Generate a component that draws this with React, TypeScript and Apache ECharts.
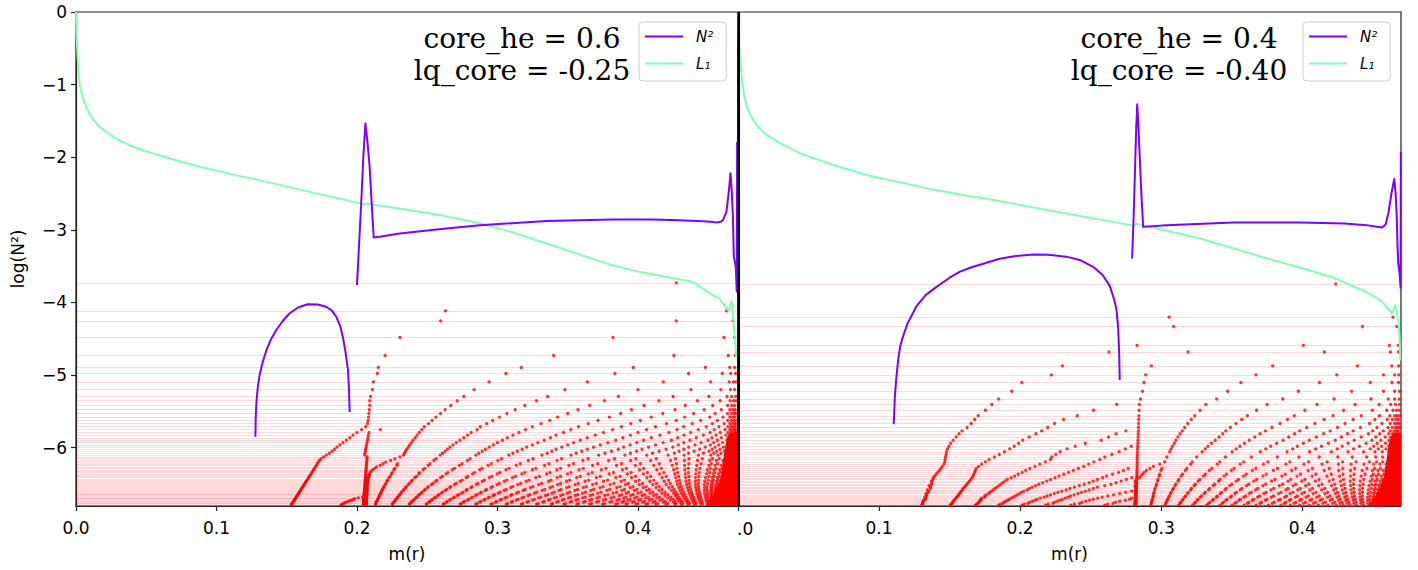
import React, { useEffect, useRef } from 'react';
import * as echarts from 'echarts';

// ---------- axes ----------
const xTicks = [0, 0.1, 0.2, 0.3, 0.4];
const yTicks = [0, -1, -2, -3, -4, -5, -6];
const xMaxLeft = 0.4712;
const xMaxRight = 0.4700;
const yMin = -6.805;

// ---------- left panel (core_he = 0.6) ----------
const n2DomeLeft = [[0.1277,-5.85],[0.1279,-5.6],[0.1285,-5.35],[0.1295,-5.15],[0.1307,-5.0],[0.1325,-4.85],[0.1355,-4.66],[0.139,-4.5],[0.1426,-4.38],[0.147,-4.26],[0.1521,-4.15],[0.158,-4.07],[0.165,-4.025],[0.172,-4.03],[0.178,-4.06],[0.182,-4.11],[0.1853,-4.2],[0.188,-4.32],[0.19,-4.48],[0.1918,-4.68],[0.1936,-4.93],[0.1943,-5.2],[0.1948,-5.51]];
const n2EnvLeft = [[0.2,-3.76],[0.2015,-3.2],[0.2031,-2.59],[0.2045,-2.0],[0.206,-1.535],[0.2075,-1.8],[0.209,-2.13],[0.2105,-2.65],[0.2119,-3.105],[0.2162,-3.097],[0.2304,-3.05],[0.26,-2.99],[0.2874,-2.936],[0.335,-2.88],[0.382,-2.858],[0.41,-2.86],[0.4297,-2.867],[0.45,-2.885],[0.4558,-2.9],[0.459,-2.89],[0.4605,-2.867],[0.463,-2.75],[0.4648,-2.45],[0.4658,-2.22],[0.4667,-2.45],[0.4676,-2.82],[0.4682,-3.37],[0.4696,-3.51],[0.47,-3.69],[0.4703,-3.85],[0.4706,-1.79]];
const l1Left = [[0,0],[0.0002,-0.15],[0.0005,-0.35],[0.001,-0.58],[0.0017,-0.8],[0.0027,-1.0],[0.004,-1.12],[0.006,-1.25],[0.008,-1.34],[0.01,-1.41],[0.013,-1.5],[0.017,-1.58],[0.022,-1.66],[0.03,-1.76],[0.041,-1.86],[0.052,-1.93],[0.064,-2.0],[0.076,-2.07],[0.088,-2.13],[0.112,-2.24],[0.136,-2.34],[0.16,-2.45],[0.183,-2.55],[0.203,-2.64],[0.2055,-2.655],[0.2075,-2.635],[0.2095,-2.65],[0.2304,-2.706],[0.26,-2.8],[0.2874,-2.91],[0.31,-3.03],[0.335,-3.19],[0.36,-3.35],[0.382,-3.49],[0.4,-3.575],[0.418,-3.64],[0.4391,-3.72],[0.4534,-3.9],[0.4581,-3.95],[0.463,-4.08],[0.4648,-4.12],[0.4665,-3.98],[0.4675,-4.13],[0.4685,-4.4],[0.4695,-4.6],[0.47,-4.75]];
const levelsLeft = [-3.731,-4.117,-4.255,-4.484,-4.732,-4.897,-4.980,-5.096,-5.201,-5.297,-5.355,-5.421,-5.479,-5.531,-5.580,-5.627,-5.671,-5.713,-5.753,-5.792,-5.829,-5.865,-5.899,-5.932,-5.964,-5.994,-6.023,-6.051,-6.078,-6.105,-6.129,-6.154,-6.178,-6.201,-6.223,-6.245,-6.266,-6.287,-6.306,-6.325,-6.345,-6.362,-6.380,-6.398,-6.415,-6.431,-6.448,-6.464,-6.480,-6.495,-6.510,-6.524,-6.538,-6.551,-6.565,-6.578,-6.590,-6.602,-6.615,-6.627,-6.638,-6.649,-6.660,-6.671,-6.682,-6.693,-6.704,-6.714,-6.724,-6.733,-6.743,-6.752,-6.762,-6.772,-6.781,-6.791];
// each row: [level, node positions...]
const dotRowsLeft = [
[-3.731,0.4273],
[-4.117,0.263,0.463],
[-4.255,0.2596,0.4273,0.4676],
[-4.484,0.2306,0.3822,0.4612,0.4688],
[-4.732,0.22,0.34,0.4256,0.4643,0.4693],
[-4.897,0.2152,0.317,0.3967,0.448,0.4653,0.4688],
[-4.980,0.2145,0.306,0.3836,0.436,0.46,0.466,0.4695],
[-5.096,0.2117,0.294,0.364,0.418,0.4517,0.465,0.468,0.4697],
[-5.201,0.211,0.2833,0.348,0.40,0.4377,0.459,0.4658,0.4688],
[-5.297,0.2097,0.276,0.3357,0.386,0.425,0.4505,0.4634,0.4667,0.4697],
[-5.355,0.2091,0.2713,0.3277,0.3761,0.4149,0.4423,0.4585,0.4656,0.468,0.4697],
[-5.421,0.2091,0.2668,0.3195,0.3657,0.4043,0.4336,0.4532,0.4638,0.4667,0.4688],
[-5.479,0.2088,0.2627,0.3126,0.3573,0.3954,0.4264,0.4471,0.4593,0.4654,0.4676,0.4692],
[-5.531,0.2085,0.2594,0.3067,0.35,0.3877,0.4177,0.4397,0.4549,0.4638,0.4665,0.4684,0.4698],
[-5.580,0.2082,0.2562,0.3013,0.3428,0.3797,0.4094,0.4333,0.4511,0.4605,0.4654,0.4674,0.469],
[-5.627,0.2079,0.2535,0.2966,0.3373,0.3716,0.4017,0.4273,0.4447,0.4565,0.4639,0.4663,0.4681,0.4696],
[-5.671,0.2075,0.2508,0.2923,0.3311,0.3646,0.3949,0.4203,0.4385,0.4529,0.4613,0.4654,0.4671,0.4687,0.4697],
[-5.713,0.2062,0.2479,0.2878,0.3248,0.3577,0.3883,0.4125,0.4326,0.4486,0.4576,0.464,0.4662,0.4678,0.4692],
[-5.753,0.2033,0.2166,0.2461,0.2855,0.32,0.3522,0.3819,0.4061,0.4278,0.4429,0.4543,0.462,0.4654,0.467,0.4685,0.4696],
[-5.792,0.2,0.2085,0.2443,0.2813,0.3153,0.347,0.3754,0.4,0.422,0.4375,0.4513,0.4586,0.4641,0.4661,0.4676,0.4689,0.4697],
[-5.829,0.1972,0.2081,0.2428,0.2787,0.311,0.3416,0.3696,0.3946,0.4156,0.4327,0.4466,0.4556,0.4626,0.4654,0.4669,0.4682,0.4692],
[-5.865,0.195,0.2078,0.2414,0.276,0.307,0.3377,0.3639,0.3893,0.4095,0.4282,0.4415,0.4526,0.4594,0.4642,0.4661,0.4675,0.4687,0.4696],
[-5.899,0.1925,0.2075,0.2399,0.2733,0.3035,0.3333,0.359,0.3842,0.4041,0.4238,0.437,0.4498,0.4566,0.4632,0.4654,0.4668,0.468,0.469,0.4698],
[-5.932,0.19,0.2071,0.2387,0.2707,0.3,0.3287,0.3542,0.3786,0.3992,0.4179,0.4326,0.4449,0.4539,0.4602,0.4643,0.466,0.4673,0.4685,0.4693],
[-5.964,0.1878,0.2068,0.2375,0.2683,0.2971,0.3248,0.35,0.3732,0.3944,0.4125,0.4287,0.4406,0.4515,0.4575,0.4635,0.4654,0.4666,0.4678,0.4689,0.4696],
[-5.994,0.1858,0.2065,0.2366,0.2662,0.2942,0.3208,0.3458,0.3684,0.3898,0.4075,0.4248,0.4361,0.4479,0.4549,0.4608,0.4643,0.466,0.4671,0.4683,0.4692,0.4698],
[-6.023,0.184,0.2062,0.2354,0.2644,0.2915,0.3176,0.3416,0.3639,0.386,0.4029,0.42,0.4327,0.4439,0.4528,0.4584,0.4637,0.4654,0.4666,0.4677,0.4687,0.4695],
[-6.051,0.1822,0.206,0.2346,0.2627,0.2891,0.3142,0.3387,0.36,0.3811,0.399,0.4151,0.4292,0.44,0.4506,0.4561,0.4615,0.4646,0.466,0.4671,0.4681,0.469,0.4697],
[-6.078,0.1803,0.2057,0.2337,0.2609,0.2867,0.311,0.3354,0.356,0.3765,0.3946,0.4104,0.4259,0.436,0.4466,0.4539,0.4591,0.4638,0.4654,0.4665,0.4676,0.4686,0.4693,0.4699],
[-6.105,0.1782,0.2055,0.2331,0.2592,0.2846,0.3081,0.3317,0.3524,0.372,0.3907,0.4062,0.4215,0.4328,0.443,0.4518,0.4569,0.4621,0.4647,0.4659,0.467,0.468,0.4689,0.4696],
[-6.154,0.1745,0.2071,0.227,0.2563,0.2805,0.3029,0.3253,0.3457,0.3644,0.3833,0.3985,0.4131,0.4267,0.4363,0.4458,0.453,0.4578,0.4627],
[-6.178,0.1733,0.207,0.224,0.2547,0.2786,0.3003,0.322,0.3424,0.3608,0.3791,0.3948,0.409,0.4232,0.4331,0.4424,0.4511,0.4558,0.4605],
[-6.223,0.1718,0.2068,0.2185,0.2289,0.252,0.2748,0.2956,0.3162,0.3366,0.3541,0.3714,0.3883,0.4017,0.4152,0.4273,0.4362,0.4449,0.4522,0.4566,0.4611],
[-6.245,0.1711,0.2067,0.2165,0.2283,0.2506,0.2729,0.2933,0.3134,0.3335,0.3508,0.3677,0.3847,0.3981,0.4112,0.4244,0.4332,0.4418,0.4504,0.4548,0.4592],
[-6.287,0.1697,0.2065,0.2126,0.2269,0.2482,0.2695,0.2891,0.3083,0.3274,0.3449,0.3611,0.3772,0.3917,0.4041,0.4166,0.4277,0.4359,0.4441,0.4514,0.4556,0.4598,0.4636],
[-6.306,0.1691,0.2065,0.2112,0.2262,0.247,0.2678,0.2874,0.3061,0.3249,0.3423,0.3581,0.3739,0.3889,0.4011,0.4134,0.4254,0.4334,0.4414,0.4494,0.454,0.4581,0.4622],
[-6.345,0.1678,0.2063,0.2095,0.2251,0.2446,0.2648,0.2838,0.3016,0.3195,0.3373,0.3523,0.3674,0.3826,0.3951,0.4067,0.4184,0.4283,0.4359,0.4437,0.4509,0.4548,0.4587,0.4626],
[-6.362,0.1673,0.2062,0.209,0.2245,0.2439,0.2634,0.2823,0.2998,0.3174,0.335,0.3499,0.3647,0.3795,0.3924,0.4039,0.4154,0.4262,0.4337,0.4412,0.4487,0.4534,0.4572,0.4611],
[-6.398,0.1661,0.2061,0.2085,0.2237,0.2424,0.2609,0.2789,0.296,0.3128,0.3298,0.3449,0.359,0.3732,0.3872,0.3982,0.409,0.4201,0.429,0.4363,0.4434,0.4506,0.4543,0.4579,0.4616],
[-6.415,0.1655,0.206,0.2082,0.2228,0.2411,0.2595,0.2777,0.2942,0.3107,0.3273,0.3425,0.3564,0.3704,0.3843,0.3955,0.4063,0.4171,0.4269,0.4339,0.441,0.4481,0.4529,0.4565,0.46],
[-6.448,0.1645,0.2059,0.2078,0.2218,0.2393,0.2571,0.2749,0.2907,0.3067,0.3226,0.3382,0.3514,0.3649,0.3784,0.3904,0.4008,0.4113,0.4217,0.4296,0.4364,0.4432,0.45,0.4537,0.4572,0.4606],
[-6.464,0.1639,0.2058,0.2077,0.2213,0.2387,0.256,0.2734,0.2892,0.3049,0.3205,0.3364,0.3492,0.3624,0.3755,0.3881,0.3983,0.4085,0.4187,0.4276,0.4342,0.4409,0.4476,0.4524,0.4558,0.4592],
[-6.495,0.1629,0.2057,0.2074,0.2206,0.2372,0.2541,0.2707,0.2861,0.3013,0.3165,0.3314,0.3449,0.3575,0.3703,0.3829,0.3931,0.4032,0.4132,0.4229,0.4301,0.4365,0.443,0.4495,0.4532,0.4565,0.4598,0.4631],
[-6.510,0.1624,0.2057,0.2073,0.22,0.2365,0.2529,0.2694,0.2849,0.2997,0.3145,0.3293,0.3428,0.3553,0.3678,0.3802,0.3912,0.4009,0.4106,0.4202,0.4282,0.4346,0.4409,0.4472,0.452,0.4553,0.4585,0.4617],
[-6.538,0.1615,0.2056,0.2072,0.2192,0.2351,0.2508,0.2668,0.2819,0.2965,0.3109,0.3253,0.3391,0.351,0.3631,0.3752,0.3871,0.3965,0.4058,0.4151,0.4245,0.4308,0.437,0.4431,0.4491,0.4529,0.4561,0.4592,0.4623],
[-6.551,0.1611,0.2055,0.2072,0.2189,0.2346,0.2503,0.266,0.2811,0.2953,0.3094,0.3235,0.3374,0.3492,0.3611,0.373,0.3849,0.3944,0.4037,0.4129,0.4221,0.4292,0.4352,0.4412,0.4473,0.4519,0.455,0.4581,0.4611],
[-6.578,0.1602,0.2054,0.2071,0.218,0.2334,0.2485,0.2639,0.2784,0.2923,0.3061,0.3197,0.3336,0.3453,0.357,0.3685,0.3799,0.3904,0.3992,0.4081,0.4172,0.4257,0.4316,0.4374,0.4433,0.4491,0.4528,0.4558,0.4587,0.4617],
[-6.590,0.1598,0.2054,0.2071,0.2179,0.2329,0.2479,0.2629,0.2777,0.2912,0.3047,0.3182,0.3318,0.3438,0.3551,0.3665,0.3779,0.3886,0.3974,0.4062,0.415,0.4239,0.43,0.4358,0.4416,0.4473,0.4518,0.4548,0.4577,0.4607],
[-6.615,0.159,0.2052,0.207,0.2171,0.2316,0.2464,0.2609,0.2755,0.2886,0.3019,0.3149,0.328,0.3404,0.3514,0.3626,0.3737,0.3847,0.3932,0.4022,0.4107,0.4193,0.4269,0.4325,0.4381,0.4437,0.4494,0.4527,0.4555,0.4584,0.4613],
[-6.627,0.1586,0.2052,0.207,0.2169,0.2313,0.2457,0.26,0.2744,0.2875,0.3005,0.3134,0.3263,0.3387,0.3496,0.3605,0.3714,0.3823,0.3916,0.4001,0.4085,0.417,0.4253,0.4308,0.4364,0.4419,0.4474,0.4517,0.4546,0.4574,0.4602],
[-6.649,0.1579,0.2051,0.2069,0.2162,0.2304,0.2443,0.2582,0.2724,0.2854,0.2979,0.3104,0.3232,0.3359,0.3467,0.3572,0.3678,0.3786,0.3885,0.3966,0.4048,0.4132,0.4213,0.428,0.4334,0.4388,0.4441,0.4496,0.4528,0.4555,0.4583,0.461],
[-6.660,0.1575,0.205,0.2069,0.2161,0.2299,0.2438,0.2576,0.2715,0.2844,0.2969,0.3093,0.3218,0.3342,0.345,0.3555,0.366,0.3765,0.3868,0.3949,0.403,0.4112,0.4193,0.4266,0.4319,0.4373,0.4426,0.4479,0.4519,0.4546,0.4573,0.46],
[-6.682,0.1568,0.204,0.205,0.2068,0.2156,0.229,0.2425,0.2559,0.2695,0.2824,0.2944,0.3067,0.3187,0.3309,0.342,0.3521,0.3624,0.3725,0.3829,0.3916,0.3994,0.4074,0.4153,0.4233,0.4291,0.4342,0.4395,0.4446,0.4498,0.4528,0.4554,0.4581,0.4608],
[-6.693,0.1564,0.201,0.2049,0.2068,0.2153,0.2286,0.2419,0.2553,0.2686,0.2813,0.2933,0.3053,0.3173,0.3293,0.3404,0.3505,0.3606,0.3708,0.3809,0.3899,0.3977,0.4055,0.4134,0.4212,0.4277,0.4328,0.4379,0.443,0.4482,0.4519,0.4545,0.4571,0.4598],
[-6.714,0.1557,0.1975,0.2048,0.2068,0.2147,0.2278,0.2408,0.2538,0.2668,0.2795,0.2912,0.3029,0.3146,0.3264,0.3375,0.3474,0.3573,0.3671,0.377,0.3867,0.3944,0.402,0.4097,0.4173,0.425,0.43,0.435,0.44,0.445,0.4499,0.4528,0.4553,0.4579,0.4604],
[-6.724,0.1554,0.196,0.2048,0.2067,0.2145,0.2274,0.2402,0.2531,0.266,0.2786,0.2902,0.3017,0.3133,0.3249,0.3363,0.3461,0.3558,0.3656,0.3754,0.3851,0.3929,0.4005,0.408,0.4156,0.4231,0.4287,0.4337,0.4386,0.4436,0.4485,0.452,0.4545,0.457,0.4596],
[-6.743,0.1548,0.1938,0.2047,0.2067,0.2138,0.2266,0.239,0.2517,0.2642,0.2765,0.288,0.2994,0.3107,0.3221,0.3333,0.3433,0.3528,0.3624,0.3719,0.3815,0.3898,0.3973,0.4046,0.4121,0.4194,0.4263,0.431,0.4359,0.4407,0.4456,0.4504,0.4529,0.4554,0.4579,0.4603],
[-6.752,0.1545,0.1925,0.2047,0.2067,0.2139,0.2263,0.2388,0.2513,0.2637,0.2758,0.2873,0.2986,0.3098,0.321,0.3322,0.3422,0.3517,0.3611,0.3705,0.38,0.3887,0.396,0.4033,0.4106,0.418,0.4252,0.43,0.4348,0.4396,0.4443,0.4491,0.4522,0.4547,0.4571,0.4596],
[-6.772,0.1538,0.1905,0.2046,0.2066,0.2132,0.2254,0.2375,0.2497,0.2621,0.2742,0.2854,0.2963,0.3072,0.3181,0.329,0.3393,0.3485,0.3577,0.3669,0.3761,0.3856,0.3924,0.3999,0.407,0.4142,0.4213,0.4273,0.432,0.4367,0.4414,0.4461,0.4506,0.453,0.4554,0.4578,0.4601],
[-6.781,0.1536,0.1895,0.2046,0.2066,0.2132,0.2252,0.2373,0.2494,0.2614,0.2734,0.2846,0.2954,0.3062,0.3171,0.3279,0.3383,0.3474,0.3565,0.3657,0.3748,0.384,0.3915,0.3986,0.4057,0.4128,0.4198,0.4263,0.4309,0.4355,0.4402,0.4448,0.4494,0.4523,0.4547,0.457,0.4594]
];
const spikeRowsLeft = [
[-6.129,0.1762,0.2072,0.2306],[-6.201,0.1725,0.2069,0.2205],[-6.266,0.1704,0.2066,0.214],[-6.325,0.1685,0.2064,0.21],
[-6.380,0.1667,0.2062,0.2087],[-6.431,0.165,0.206,0.208],[-6.480,0.1634,0.2058,0.2076],[-6.524,0.162,0.2056,0.2073],
[-6.565,0.1606,0.2055,0.2071],[-6.602,0.1594,0.2053,0.207],[-6.638,0.1582,0.2051,0.2069],[-6.671,0.1571,0.205,0.2068],
[-6.704,0.1561,0.1984,0.2049,0.2068],[-6.733,0.1551,0.195,0.2048,0.2067],[-6.762,0.1542,0.1913,0.2047,0.2066],[-6.791,0.1533,0.1885,0.2046,0.2066]
];
const edgeMassLeft = [[0.448,-6.805],[0.4525,-6.7],[0.4565,-6.55],[0.459,-6.4],[0.4605,-6.2],[0.462,-6.0],[0.4635,-5.87],[0.465,-5.8],[0.4712,-5.8]];

// ---------- right panel (core_he = 0.4) ----------
const n2DomeRight = [[0.1104,-5.68],[0.1112,-5.3],[0.1121,-5.07],[0.1135,-4.8],[0.115,-4.6],[0.1168,-4.48],[0.12,-4.3],[0.1263,-4.06],[0.133,-3.9],[0.1405,-3.79],[0.15,-3.66],[0.157,-3.58],[0.165,-3.52],[0.175,-3.46],[0.1854,-3.4],[0.197,-3.36],[0.2091,-3.34],[0.22,-3.345],[0.2327,-3.37],[0.243,-3.42],[0.2517,-3.51],[0.2583,-3.62],[0.2635,-3.77],[0.2665,-3.95],[0.2683,-4.1],[0.2695,-4.35],[0.2702,-4.7],[0.2706,-5.07]];
const n2EnvRight = [[0.2794,-3.395],[0.2805,-2.8],[0.2815,-2.13],[0.2823,-1.6],[0.283,-1.27],[0.2838,-1.55],[0.2846,-1.9],[0.2858,-2.45],[0.2872,-2.96],[0.3036,-2.936],[0.351,-2.9],[0.3984,-2.9],[0.43,-2.915],[0.4457,-2.936],[0.4563,-2.97],[0.459,-2.93],[0.461,-2.78],[0.4632,-2.5],[0.4652,-2.3],[0.4662,-2.5],[0.467,-2.82],[0.4675,-3.2],[0.468,-3.46],[0.469,-3.6],[0.4695,-3.74],[0.4697,-3.8],[0.4699,-1.93]];
const l1Right = [[0,0],[0.0002,-0.2],[0.0006,-0.42],[0.0012,-0.6],[0.0019,-0.75],[0.0031,-0.98],[0.0043,-1.15],[0.0065,-1.31],[0.009,-1.43],[0.0135,-1.57],[0.0208,-1.7],[0.031,-1.82],[0.0445,-1.95],[0.056,-2.03],[0.0682,-2.11],[0.08,-2.18],[0.0918,-2.25],[0.1155,-2.35],[0.1392,-2.45],[0.1625,-2.53],[0.1854,-2.605],[0.2327,-2.775],[0.2787,-2.936],[0.2805,-2.95],[0.2823,-2.915],[0.284,-2.925],[0.3277,-3.12],[0.375,-3.395],[0.4,-3.53],[0.4223,-3.66],[0.4457,-3.86],[0.456,-3.98],[0.4634,-4.15],[0.466,-4.04],[0.4672,-4.15],[0.4683,-4.29],[0.469,-4.5],[0.4695,-4.8]];
const levelsRight = [-3.745,-4.204,-4.332,-4.593,-4.684,-4.875,-4.999,-5.104,-5.224,-5.331,-5.407,-5.486,-5.562,-5.614,-5.669,-5.724,-5.771,-5.810,-5.854,-5.899,-5.941,-5.982,-6.019,-6.058,-6.095,-6.130,-6.164,-6.197,-6.229,-6.259,-6.288,-6.316,-6.342,-6.368,-6.393,-6.416,-6.440,-6.462,-6.484,-6.505,-6.525,-6.545,-6.564,-6.582,-6.600,-6.617,-6.634,-6.651,-6.667,-6.682,-6.697,-6.713,-6.726,-6.740,-6.754,-6.768,-6.781,-6.795];
const dotRowsRight = [
[-3.745,0.4238],
[-4.204,0.3056,0.4643],
[-4.332,0.3089,0.4427,0.467],
[-4.593,0.2829,0.4008,0.4618,0.468],
[-4.684,0.263,0.3191,0.4157,0.4625,0.4683],
[-4.875,0.2299,0.2931,0.379,0.4391,0.4635,0.4683],
[-4.999,0.2221,0.289,0.3672,0.4245,0.4576,0.4655,0.4685],
[-5.104,0.2012,0.2878,0.3565,0.4122,0.4482,0.4636,0.4683],
[-5.224,0.1941,0.2867,0.3471,0.3972,0.4351,0.4576,0.4655,0.469],
[-5.331,0.1847,0.2853,0.3393,0.3862,0.4226,0.4487,0.461,0.4655,0.4688],
[-5.407,0.1799,0.2685,0.2845,0.3317,0.3751,0.4105,0.4375,0.4545,0.4627,0.4662,0.469],
[-5.486,0.1754,0.2521,0.2843,0.3275,0.3676,0.4018,0.4293,0.4497,0.4599,0.4643,0.4668,0.4688],
[-5.562,0.1703,0.2405,0.2842,0.3238,0.3611,0.3943,0.4218,0.4418,0.4547,0.4621,0.4655,0.4673,0.4691],
[-5.614,0.1678,0.2308,0.2841,0.3213,0.3571,0.3895,0.4155,0.4361,0.4515,0.4603,0.4639,0.4663,0.4681],
[-5.669,0.1653,0.2244,0.284,0.3188,0.353,0.3843,0.409,0.4303,0.4477,0.4565,0.4624,0.4654,0.467,0.4686],
[-5.724,0.1624,0.2195,0.2839,0.3166,0.349,0.3785,0.4032,0.425,0.4413,0.453,0.4607,0.4637,0.4661,0.4675,0.4691],
[-5.771,0.1588,0.2153,0.275,0.2838,0.3149,0.3458,0.3738,0.3982,0.4198,0.4361,0.45,0.4574,0.4624,0.465,0.4667,0.4681],
[-5.810,0.1567,0.2112,0.268,0.2837,0.3134,0.3436,0.3701,0.3945,0.4151,0.4321,0.4469,0.4549,0.4613,0.4639,0.466,0.4674,0.4687],
[-5.854,0.1546,0.2064,0.2626,0.2836,0.3119,0.341,0.3663,0.3904,0.41,0.4277,0.4418,0.4521,0.4588,0.4626,0.465,0.4666,0.4679],
[-5.899,0.1525,0.2019,0.2575,0.2835,0.3104,0.3383,0.3624,0.3864,0.405,0.4234,0.4368,0.4494,0.4557,0.4614,0.4637,0.4658,0.467,0.4682],
[-5.941,0.1508,0.1989,0.2462,0.2834,0.3093,0.3356,0.359,0.3819,0.4008,0.4186,0.4325,0.4452,0.4531,0.4591,0.4625,0.4647,0.4662,0.4674],
[-5.982,0.1495,0.1958,0.239,0.2788,0.2833,0.308,0.3331,0.3558,0.3776,0.3965,0.4136,0.4283,0.4405,0.4506,0.4563,0.4614,0.4635,0.4655,0.4666],
[-6.019,0.1485,0.1927,0.2333,0.2746,0.2832,0.307,0.3312,0.3532,0.3742,0.3932,0.4095,0.4248,0.4364,0.4481,0.4539,0.4594,0.4625,0.4644,0.466],
[-6.058,0.1478,0.1889,0.2283,0.2702,0.2831,0.306,0.329,0.3503,0.3703,0.3892,0.4052,0.4206,0.4324,0.4435,0.4515,0.4568,0.4614,0.4633,0.4652],
[-6.130,0.1471,0.1818,0.2225,0.26,0.283,0.304,0.3252,0.3455,0.3639,0.3823,0.3977,0.412,0.4252,0.4355,0.4457,0.4521,0.457,0.4613,0.4631],
[-6.197,0.1466,0.1754,0.2179,0.2523,0.283,0.3025,0.3221,0.3415,0.3585,0.3756,0.3912,0.4045,0.4177,0.4286,0.4381,0.4476,0.4527,0.4571,0.4612],
[-6.229,0.146,0.1728,0.214,0.2486,0.2829,0.299,0.3208,0.3397,0.356,0.3725,0.3884,0.4012,0.414,0.4256,0.4346,0.4438,0.4507,0.4551,0.4594,0.462],
[-6.288,0.1439,0.1689,0.2069,0.2413,0.2766,0.2829,0.292,0.3005,0.3182,0.3359,0.3517,0.3671,0.3825,0.3953,0.4072,0.4191,0.4287,0.4372,0.4458,0.4513,0.4554,0.4594],
[-6.316,0.1428,0.1682,0.204,0.2377,0.2733,0.2828,0.2896,0.2999,0.3171,0.3341,0.3497,0.3647,0.3796,0.3925,0.4042,0.4156,0.4259,0.4342,0.4425,0.4497,0.4536,0.4575,0.4611],
[-6.368,0.1405,0.1671,0.1987,0.231,0.2655,0.2828,0.2868,0.299,0.3151,0.3313,0.3463,0.3603,0.3744,0.3879,0.3988,0.4097,0.4205,0.4289,0.4367,0.4445,0.4504,0.4541,0.4578],
[-6.393,0.1394,0.1666,0.1961,0.2276,0.2612,0.2827,0.2855,0.2986,0.3141,0.3299,0.3446,0.3584,0.3721,0.3856,0.3963,0.407,0.4175,0.4265,0.4342,0.4417,0.449,0.4525,0.4561,0.4597],
[-6.440,0.1382,0.1651,0.1909,0.2215,0.2548,0.2753,0.2826,0.2977,0.3125,0.3274,0.3418,0.3548,0.3677,0.3806,0.3919,0.4019,0.4119,0.4219,0.4293,0.4365,0.4436,0.4497,0.4531,0.4565,0.4599],
[-6.462,0.1371,0.1641,0.1893,0.2188,0.2517,0.2716,0.2815,0.2826,0.2974,0.3119,0.3262,0.3406,0.3532,0.3656,0.3783,0.3899,0.3997,0.4093,0.4191,0.4271,0.434,0.4411,0.4481,0.4517,0.4551,0.4583],
[-6.505,0.1372,0.1623,0.1864,0.2133,0.2455,0.2644,0.2825,0.2966,0.3104,0.3242,0.338,0.3501,0.3621,0.3741,0.3861,0.3954,0.4047,0.414,0.4231,0.4297,0.4364,0.4431,0.4492,0.4523,0.4555,0.4586],
[-6.525,0.1354,0.1615,0.185,0.2109,0.2419,0.26,0.2815,0.2825,0.2964,0.3097,0.3233,0.3368,0.3487,0.3605,0.3721,0.3838,0.3935,0.4025,0.4116,0.4208,0.4277,0.4343,0.4408,0.4473,0.4511,0.4542,0.4572,0.4603],
[-6.564,0.1363,0.1597,0.1822,0.2066,0.2353,0.2519,0.2824,0.2957,0.3086,0.3215,0.3344,0.3462,0.3574,0.3686,0.3798,0.3899,0.3986,0.4073,0.4159,0.424,0.4303,0.4365,0.4427,0.4488,0.4518,0.4547,0.4576],
[-6.582,0.1341,0.1591,0.181,0.205,0.2327,0.249,0.2818,0.2824,0.2954,0.308,0.3208,0.3334,0.3451,0.356,0.3669,0.3778,0.3884,0.3968,0.4053,0.4138,0.4223,0.4284,0.4346,0.4407,0.4468,0.4507,0.4535,0.4564,0.4593],
[-6.617,0.1348,0.1577,0.1785,0.2011,0.2268,0.2435,0.2748,0.2823,0.2949,0.3071,0.3192,0.3313,0.3429,0.3534,0.3639,0.3744,0.385,0.3934,0.4016,0.4098,0.4179,0.4251,0.4309,0.4368,0.4427,0.4485,0.4514,0.4541,0.4569,0.4597],
[-6.634,0.1332,0.157,0.1778,0.1996,0.2242,0.241,0.2706,0.2816,0.2823,0.2947,0.3065,0.3186,0.3304,0.3419,0.3522,0.3624,0.3729,0.3832,0.3914,0.3998,0.4078,0.416,0.4235,0.4293,0.435,0.4408,0.4466,0.4504,0.4531,0.4558,0.4585],
[-6.667,0.1336,0.1558,0.1749,0.1965,0.2191,0.2358,0.2622,0.2822,0.2943,0.3057,0.3172,0.3286,0.3398,0.3499,0.3598,0.3697,0.3797,0.3888,0.3966,0.4043,0.412,0.4197,0.426,0.4316,0.4371,0.4426,0.4482,0.451,0.4537,0.4563,0.4589],
[-6.682,0.1323,0.155,0.1749,0.1952,0.217,0.234,0.2582,0.2815,0.2822,0.2942,0.3053,0.3166,0.3277,0.3391,0.349,0.3586,0.3684,0.3781,0.3875,0.3951,0.4027,0.4103,0.4179,0.4246,0.4301,0.4355,0.441,0.4463,0.4502,0.4527,0.4553,0.4579,0.4604],
[-6.713,0.1328,0.1539,0.172,0.1923,0.212,0.2299,0.2519,0.2776,0.2821,0.2937,0.3045,0.3154,0.3262,0.3371,0.3468,0.3562,0.3656,0.375,0.3845,0.3918,0.3995,0.4068,0.4141,0.4214,0.427,0.4322,0.4375,0.4427,0.448,0.4508,0.4533,0.4558,0.4582],
[-6.726,0.1316,0.1532,0.1722,0.1911,0.2107,0.2282,0.2493,0.2746,0.2815,0.2821,0.2935,0.3043,0.3149,0.3255,0.3363,0.3459,0.3551,0.3646,0.3738,0.3831,0.391,0.3982,0.4055,0.4126,0.4198,0.4258,0.4309,0.4361,0.4413,0.4464,0.45,0.4525,0.4549,0.4574,0.4598],
[-6.754,0.1311,0.1521,0.1705,0.1885,0.2068,0.2244,0.2439,0.2677,0.282,0.2932,0.3036,0.3139,0.3242,0.3346,0.3442,0.3532,0.3622,0.3712,0.3802,0.3885,0.3955,0.4024,0.4094,0.4164,0.4232,0.4282,0.4332,0.4382,0.4432,0.4482,0.4508,0.4532,0.4555,0.4579],
[-6.768,0.1309,0.1517,0.17,0.1877,0.2055,0.2232,0.2422,0.2658,0.2812,0.282,0.293,0.3033,0.3134,0.3235,0.3336,0.3433,0.3521,0.3611,0.3699,0.3787,0.3872,0.3942,0.401,0.4078,0.4146,0.4216,0.4268,0.4317,0.4365,0.4415,0.4464,0.4499,0.4523,0.4546,0.4569,0.4592],
[-6.795,0.1304,0.1505,0.1683,0.1848,0.2013,0.2182,0.236,0.26,0.2819,0.2927,0.3026,0.3124,0.3223,0.3322,0.3417,0.3503,0.3588,0.3674,0.376,0.3849,0.3916,0.3982,0.4049,0.4115,0.4182,0.4242,0.429,0.4338,0.4385,0.4433,0.4481,0.4507,0.4529,0.4552,0.4574]
];
const coreRowsRight = [
[-6.095,0.1475,0.1852,0.2253,0.265,0.2831],[-6.164,0.1468,0.178,0.2215,0.2565,0.283],
[-6.259,0.1448,0.1706,0.2105,0.245,0.2829,0.2945],[-6.342,0.1416,0.1678,0.2015,0.2343,0.2698,0.2828,0.288],
[-6.416,0.1385,0.1659,0.1937,0.2247,0.2585,0.2792,0.2827,0.2845],[-6.484,0.1374,0.1632,0.1878,0.216,0.2489,0.268,0.2818,0.2826],
[-6.545,0.1366,0.1605,0.1836,0.2085,0.2385,0.2548,0.2816,0.2825],[-6.600,0.1353,0.1584,0.1797,0.2027,0.2295,0.2462,0.279,0.2815,0.2824],
[-6.651,0.1338,0.1565,0.176,0.198,0.2215,0.2383,0.2662,0.2815,0.2822],[-6.697,0.1331,0.1546,0.1728,0.1938,0.2143,0.232,0.255,0.279,0.2815,0.2822],
[-6.740,0.1314,0.1527,0.1713,0.1898,0.2088,0.2264,0.2466,0.2706,0.2815,0.2821],[-6.781,0.1306,0.151,0.169,0.186,0.203,0.22,0.2385,0.262,0.2812,0.282]
];
const edgeMassRight = [[0.446,-6.805],[0.451,-6.7],[0.455,-6.55],[0.458,-6.4],[0.4595,-6.2],[0.461,-6.0],[0.4625,-5.87],[0.4645,-5.8],[0.4705,-5.8]];

// ---------- labels ----------
const annotLeft = 'core_he = 0.6\nlq_core = -0.25';
const annotRight = 'core_he = 0.4\nlq_core = -0.40';
const legendNames = ['N²', 'L₁'];

const PURPLE = '#7f00ff';
const GREEN = '#80ffb4';
const AXIS = '#222';

function rowsToPoints(rows: number[][]) {
  const out: number[][] = [];
  rows.forEach((r) => { for (let i = 1; i < r.length; i++) out.push([r[i], r[0]]); });
  return out;
}

function panelSeries(idx: number, xmax: number, levels: number[], rows: number[][], extra: number[][], mass: number[][], dome: number[][], env: number[][], l1: number[][]) {
  const ax = { xAxisIndex: idx, yAxisIndex: idx };
  return [
    { type: 'lines', coordinateSystem: 'cartesian2d', ...ax, silent: true, z: 1,
      data: levels.map((y) => ({ coords: [[0, y], [xmax, y]] })),
      lineStyle: { color: '#ff0000', width: 1, opacity: 0.15 } },
    { type: 'line', ...ax, data: mass, symbol: 'none', silent: true, z: 2,
      lineStyle: { width: 0 }, areaStyle: { color: '#ff0000', opacity: 1, origin: 'start' } },
    { type: 'scatter', ...ax, data: rowsToPoints(rows.concat(extra)), symbol: 'circle', symbolSize: 3.3, silent: true, z: 3,
      itemStyle: { color: '#ff0000' } },
    { type: 'line', name: 'N²', ...ax, data: dome, symbol: 'none', z: 5, lineStyle: { color: PURPLE, width: 2, join: 'round' }, itemStyle: { color: PURPLE } },
    { type: 'line', name: 'N²', ...ax, data: env, symbol: 'none', z: 5, lineStyle: { color: PURPLE, width: 2, join: 'round' }, itemStyle: { color: PURPLE } },
    { type: 'line', name: 'L₁', ...ax, data: l1, symbol: 'none', z: 4, lineStyle: { color: GREEN, width: 2, join: 'round' }, itemStyle: { color: GREEN } },
  ];
}

const tickFont = { fontFamily: 'DejaVu Sans', fontSize: 17, color: '#000' };

function xAxisCfg(idx: number, xmax: number, hideZero: boolean) {
  return {
    type: 'value', gridIndex: idx, min: 0, max: xmax,
    axisLine: { show: true, onZero: false, lineStyle: { color: AXIS, width: 1.2 } },
    axisTick: { show: true, length: 5, inside: false, customValues: xTicks, lineStyle: { color: AXIS, width: 1.2 } },
    axisLabel: { ...tickFont, margin: 13, customValues: xTicks,
      formatter: (v: number) => (hideZero && v === 0 ? '' : v.toFixed(1)) },
    splitLine: { show: false },
    name: 'm(r)', nameLocation: 'middle', nameGap: 39,
    nameTextStyle: { fontFamily: 'DejaVu Sans', fontSize: 17, color: '#000' },
  };
}

const legendCommon = {
  orient: 'vertical', top: 22, icon: 'rect', itemWidth: 38, itemHeight: 2, itemGap: 12,
  padding: [7, 13, 10, 6], backgroundColor: '#fff', borderColor: '#cccccc', borderWidth: 1, borderRadius: 4,
  selectedMode: false, data: legendNames, z: 20,
  textStyle: { fontFamily: 'DejaVu Sans', fontStyle: 'italic', fontSize: 15, color: '#000', padding: [0, 0, 0, 8] },
};

const option = {
  animation: false,
  backgroundColor: '#ffffff',
  grid: [
    { left: 76, top: 12, width: 662, height: 494, show: true, borderColor: AXIS, borderWidth: 1.2, backgroundColor: 'transparent' },
    { left: 738, top: 12, width: 663, height: 494, show: true, borderColor: AXIS, borderWidth: 1.2, backgroundColor: 'transparent' },
  ],
  xAxis: [xAxisCfg(0, xMaxLeft, false), xAxisCfg(1, xMaxRight, true)],
  yAxis: [
    { type: 'value', gridIndex: 0, min: yMin, max: 0,
      axisLine: { show: true, onZero: false, lineStyle: { color: AXIS, width: 1.2 } },
      axisTick: { show: true, length: 5, customValues: yTicks, lineStyle: { color: AXIS, width: 1.2 } },
      axisLabel: { ...tickFont, margin: 9, customValues: yTicks,
        formatter: (v: number) => (v < 0 ? '\u2212' + String(Math.abs(v)) : '0') },
      splitLine: { show: false },
      name: 'log(N²)', nameLocation: 'middle', nameGap: 50, nameRotate: 90,
      nameTextStyle: { fontFamily: 'DejaVu Sans', fontSize: 17, color: '#000' } },
    { type: 'value', gridIndex: 1, min: yMin, max: 0, show: false, splitLine: { show: false } },
  ],
  legend: [
    { ...legendCommon, left: 639 },
    { ...legendCommon, left: 1303 },
  ],
  graphic: [
    { type: 'text', x: 522, y: 54, z: 30, style: { text: annotLeft, fontFamily: 'DejaVu Serif', fontSize: 28, fill: '#000', align: 'center', verticalAlign: 'middle', lineHeight: 32 } },
    { type: 'text', x: 1179, y: 54, z: 30, style: { text: annotRight, fontFamily: 'DejaVu Serif', fontSize: 28, fill: '#000', align: 'center', verticalAlign: 'middle', lineHeight: 32 } },
    { type: 'text', x: 737, y: 520, z: 30, style: { text: '.0', fontFamily: 'DejaVu Sans', fontSize: 17, fill: '#000', align: 'left', verticalAlign: 'top' } },
    { type: 'line', z: 40, shape: { x1: 738.7, y1: 12, x2: 738.7, y2: 506 }, style: { stroke: '#000', lineWidth: 2.7 } },
  ],
  series: [
    ...panelSeries(0, xMaxLeft, levelsLeft, dotRowsLeft, spikeRowsLeft, edgeMassLeft, n2DomeLeft, n2EnvLeft, l1Left),
    ...panelSeries(1, xMaxRight, levelsRight, dotRowsRight, coreRowsRight, edgeMassRight, n2DomeRight, n2EnvRight, l1Right),
  ],
};

export default function App() {
  const ref = useRef<HTMLDivElement>(null);
  useEffect(() => {
    if (!ref.current) return;
    const chart = echarts.init(ref.current, null, { renderer: 'svg' });
    chart.setOption(option as any);
    return () => chart.dispose();
  }, []);
  return <div ref={ref} style={{ position: 'absolute', left: 0, top: 0, width: 1418, height: 570, background: '#fff' }} />;
}
